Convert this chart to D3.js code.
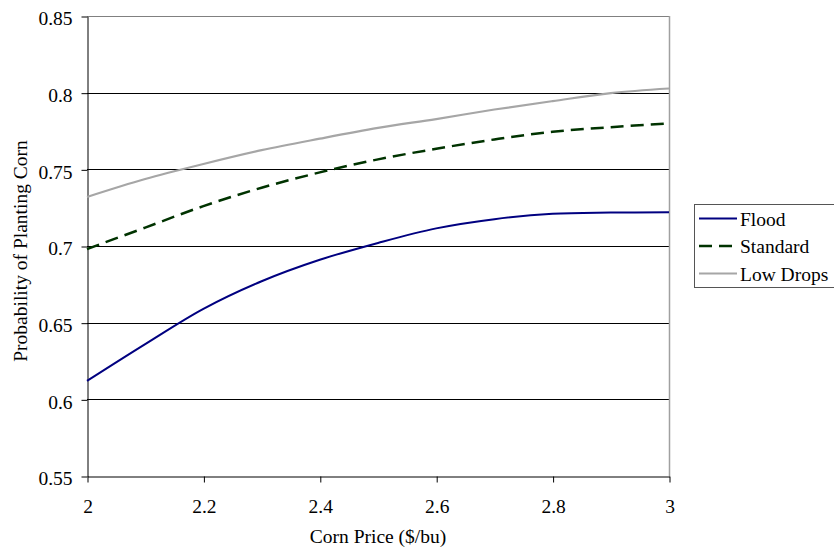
<!DOCTYPE html>
<html>
<head>
<meta charset="utf-8">
<script src="https://cdn.jsdelivr.net/npm/d3@7"></script>
<style>
  html, body { margin: 0; padding: 0; background: #fff; }
  svg { display: block; font-family: "Liberation Serif", "Times New Roman", serif; }
</style>
</head>
<body>
<svg id="chart" width="834" height="552"></svg>
<script>
// Corn price ($/bu) on the x axis
const prices = [2.0, 2.1, 2.2, 2.3, 2.4, 2.5, 2.6, 2.7, 2.8, 2.9, 3.0];

// Probability of planting corn under each scenario
const flood    = [0.612, 0.636, 0.659, 0.677, 0.691, 0.702, 0.7115, 0.7175, 0.721, 0.7218, 0.722];
const standard = [0.698, 0.712, 0.726, 0.738, 0.748, 0.7565, 0.7634, 0.7695, 0.7745, 0.7775, 0.780];
const lowDrops = [0.732, 0.7437, 0.7535, 0.7625, 0.770, 0.777, 0.7828, 0.789, 0.7945, 0.7997, 0.8027];

const seriesNames = ["Flood", "Standard", "Low Drops"];
const xTicks = [2, 2.2, 2.4, 2.6, 2.8, 3];
const yTicks = [0.55, 0.6, 0.65, 0.7, 0.75, 0.8, 0.85];

const FONT = "'Liberation Serif', 'Times New Roman', serif";
const FS = 19.5;

const svg = d3.select("#chart");
const plotLeft = 87, plotRight = 669, plotTop = 16, plotBottom = 476;

const x = d3.scaleLinear().domain([2, 3]).range([plotLeft, plotRight]);
const y = d3.scaleLinear().domain([0.55, 0.85]).range([plotBottom, plotTop]);

// Horizontal gridlines
svg.append("g")
  .selectAll("line")
  .data(yTicks.filter(v => v > 0.55 && v < 0.85))
  .join("line")
  .attr("x1", plotLeft).attr("x2", plotRight)
  .attr("y1", d => Math.round(y(d)) + 0.5).attr("y2", d => Math.round(y(d)) + 0.5)
  .attr("stroke", "#000").attr("stroke-width", 1);

// Plot frame: top and right edges in grey
svg.append("line").attr("x1", plotLeft).attr("x2", plotRight + 0.5)
  .attr("y1", plotTop + 0.5).attr("y2", plotTop + 0.5).attr("stroke", "#808080");
svg.append("line").attr("x1", plotRight + 0.5).attr("x2", plotRight + 0.5)
  .attr("y1", plotTop).attr("y2", plotBottom).attr("stroke", "#a0a0a0").attr("stroke-width", 1.5);

// Axes
const xAxis = d3.axisBottom(x).tickValues(xTicks).tickSize(6).tickSizeOuter(0)
  .tickFormat(d3.format("~g"));
const yAxis = d3.axisLeft(y).tickValues(yTicks).tickSize(6).tickSizeOuter(0)
  .tickFormat(d3.format("~g"));

const gx = svg.append("g").attr("transform", `translate(0.5,${plotBottom + 0.5})`).call(xAxis);
const gy = svg.append("g").attr("transform", `translate(${plotLeft + 0.5},0.5)`).call(yAxis);

[gx, gy].forEach(g => {
  g.select(".domain").attr("stroke", "#000");
  g.selectAll(".tick line").attr("stroke", "#000");
  g.selectAll(".tick text")
    .attr("fill", "#000")
    .style("font-size", FS + "px")
    .style("font-family", FONT);
});
gx.selectAll(".tick text").attr("dy", 0).attr("y", 36);
gy.selectAll(".tick text").attr("x", -15).attr("dy", "0.42em");

// Axis titles
svg.append("text")
  .attr("x", 378).attr("y", 543)
  .attr("text-anchor", "middle").attr("fill", "#000")
  .style("font-size", FS + "px").style("font-family", FONT)
  .text("Corn Price ($/bu)");
svg.append("text")
  .attr("transform", "translate(27,251) rotate(-90)")
  .attr("text-anchor", "middle").attr("fill", "#000")
  .style("font-size", FS + "px").style("font-family", FONT)
  .text("Probability of Planting Corn");

// Series lines
const styles = [
  { color: "#000080", width: 2, dash: null },
  { color: "#003300", width: 2.5, dash: "13,7" },
  { color: "#a6a6a6", width: 2.2, dash: null }
];
const allSeries = [flood, standard, lowDrops];

const line = d3.line()
  .x((d, i) => x(prices[i]))
  .y(d => y(d))
  .curve(d3.curveCatmullRom.alpha(0.5));

allSeries.forEach((vals, k) => {
  svg.append("path")
    .datum(vals)
    .attr("d", line)
    .attr("fill", "none")
    .attr("stroke", styles[k].color)
    .attr("stroke-width", styles[k].width)
    .attr("stroke-dasharray", styles[k].dash);
});

// Legend
const lg = svg.append("g");
lg.append("rect")
  .attr("x", 694.5).attr("y", 204.5).attr("width", 150).attr("height", 83)
  .attr("fill", "#fff").attr("stroke", "#555").attr("stroke-width", 1);
seriesNames.forEach((name, k) => {
  const yy = 218.5 + k * 27.5;
  lg.append("line")
    .attr("x1", 699).attr("x2", 737).attr("y1", yy).attr("y2", yy)
    .attr("stroke", styles[k].color).attr("stroke-width", styles[k].width)
    .attr("stroke-dasharray", styles[k].dash);
  lg.append("text")
    .attr("x", 740).attr("y", yy + 7)
    .attr("fill", "#000")
    .style("font-size", FS + "px").style("font-family", FONT)
    .text(name);
});
</script>
</body>
</html>
